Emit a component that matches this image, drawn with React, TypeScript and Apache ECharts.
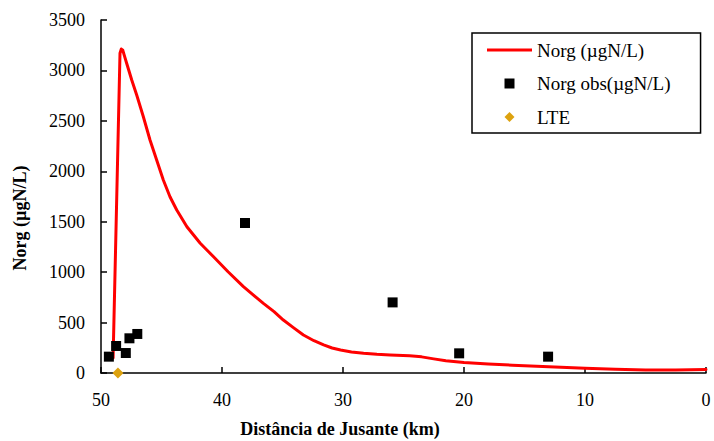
import React, { useEffect, useRef } from "react";
import * as echarts from "echarts";

const xTicks = [0, 10, 20, 30, 40, 50];
const yTicks = [0, 500, 1000, 1500, 2000, 2500, 3000, 3500];

const seriesNames = ["Norg (µgN/L)", "Norg obs(µgN/L)", "LTE"];
const xTitle = "Distância de Jusante (km)";
const yTitle = "Norg (µgN/L)";

// simulated curve: distance (km) and Norg (µgN/L)
const modelX = [49.0, 48.43, 48.32, 48.2, 48.05, 47.88, 47.46, 47.05, 46.5, 45.95, 45.4, 44.85, 44.3, 43.74, 42.9, 41.8, 40.7, 39.5, 38.23, 37.4, 36.58, 35.7, 34.93, 34.1, 33.27, 32.4, 31.6, 30.9, 30.2, 29.3, 28.3, 27.2, 26.1, 24.5, 23.5, 22.5, 21.5, 20.0, 18.0, 16.0, 13.0, 10.0, 7.5, 5.0, 2.5, 0];
const modelY = [150, 3170, 3212, 3200, 3140, 3071, 2905, 2756, 2541, 2310, 2112, 1914, 1748, 1616, 1450, 1286, 1153, 1004, 856, 772, 691, 608, 525, 450, 377, 320, 278, 248, 228, 208, 195, 185, 178, 170, 160, 140, 122, 105, 90, 78, 62, 47, 36, 30, 30, 35];

// observations
const obsX = [49.35, 48.75, 47.95, 47.65, 47.0, 38.1, 25.9, 20.4, 13.05];
const obsY = [162, 268, 198, 344, 387, 1487, 700, 195, 162];

// LTE
const lteX = [48.6];
const lteY = [0];

const FONT = "Liberation Serif";

export default function App() {
  const ref = useRef<HTMLDivElement>(null);
  useEffect(() => {
    if (!ref.current) return;
    const chart = echarts.init(ref.current, null, { renderer: "svg" });
    const zip = (xs: number[], ys: number[]) => xs.map((x, i) => [x, ys[i]]);
    chart.setOption({
      animation: false,
      textStyle: { fontFamily: FONT },
      grid: { left: 101, right: 8, top: 20, bottom: 68, containLabel: false },
      xAxis: {
        type: "value",
        inverse: true,
        min: xTicks[0],
        max: xTicks[xTicks.length - 1],
        interval: 10,
        axisLine: { show: true, onZero: false, lineStyle: { color: "#000", width: 1.5 } },
        axisTick: { show: true, inside: true, length: 6, lineStyle: { color: "#000", width: 1.5 } },
        axisLabel: { color: "#000", fontSize: 18, fontFamily: FONT, margin: 18, formatter: (v: number) => String(v) },
        splitLine: { show: false },
      },
      yAxis: {
        type: "value",
        min: yTicks[0],
        max: yTicks[yTicks.length - 1],
        interval: 500,
        axisLine: { show: true, onZero: false, lineStyle: { color: "#000", width: 1.5 } },
        axisTick: { show: true, inside: true, length: 6, lineStyle: { color: "#000", width: 1.5 } },
        axisLabel: { color: "#000", fontSize: 18, fontFamily: FONT, margin: 16, formatter: (v: number) => String(v) },
        splitLine: { show: false },
      },
      legend: {
        orient: "vertical",
        left: 472,
        top: 33,
        padding: [7, 30, 6, 15],
        borderColor: "#000",
        borderWidth: 1.5,
        itemWidth: 45,
        itemHeight: 10,
        itemGap: 13.5,
        symbolKeepAspect: true,
        textStyle: { fontSize: 19, fontFamily: FONT, color: "#000", lineHeight: 20 },
        data: [
          { name: seriesNames[0], icon: "path://M0,0L45,0L45,3L0,3Z", itemStyle: { color: "#FF0000" } },
          { name: seriesNames[1], icon: "path://M0,0L10,0L10,10L0,10Z" },
          { name: seriesNames[2], icon: "path://M5,0L10,5L5,10L0,5Z" },
        ],
      },
      graphic: [
        {
          type: "text",
          x: 340,
          y: 429,
          style: {
            text: xTitle,
            fontFamily: FONT,
            fontSize: 18,
            fontWeight: "bold",
            fill: "#000",
            align: "center",
            verticalAlign: "middle",
          },
        },
        {
          type: "text",
          x: 20,
          y: 218,
          rotation: Math.PI / 2,
          style: {
            text: yTitle,
            fontFamily: FONT,
            fontSize: 18,
            fontWeight: "bold",
            fill: "#000",
            align: "center",
            verticalAlign: "middle",
          },
        },
      ],
      series: [
        {
          name: seriesNames[0],
          type: "line",
          data: zip(modelX, modelY),
          showSymbol: false,
          symbol: "none",
          smooth: false,
          lineStyle: { color: "#FF0000", width: 3, cap: "round", join: "round" },
          itemStyle: { color: "#FF0000" },
          z: 2,
        },
        {
          name: seriesNames[1],
          type: "scatter",
          data: zip(obsX, obsY),
          symbol: "rect",
          symbolSize: 10,
          itemStyle: { color: "#000", opacity: 1 },
          z: 3,
        },
        {
          name: seriesNames[2],
          type: "scatter",
          data: zip(lteX, lteY),
          symbol: "diamond",
          symbolSize: [11, 11],
          itemStyle: { color: "#DDA20F", opacity: 1 },
          z: 4,
        },
      ],
    });
    return () => chart.dispose();
  }, []);
  return <div ref={ref} style={{ width: 714, height: 441, position: "absolute", left: 0, top: 0 }} />;
}
